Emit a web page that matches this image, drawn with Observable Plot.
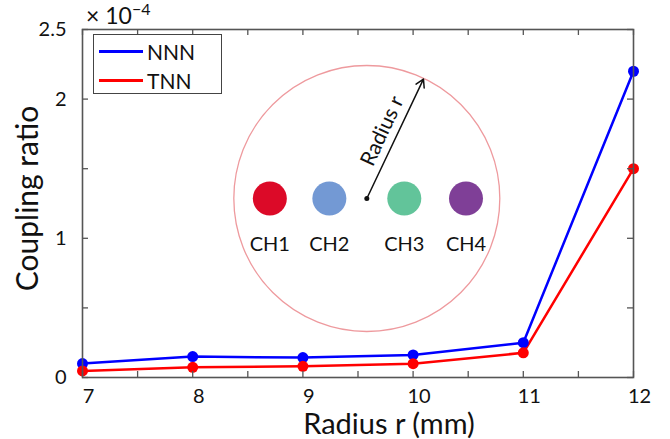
<!DOCTYPE html>
<html>
<head>
<meta charset="utf-8">
<script src="https://cdn.jsdelivr.net/npm/d3@7"></script>
<script src="https://cdn.jsdelivr.net/npm/@observablehq/plot@0.6"></script>
<style>
  html, body { margin: 0; padding: 0; background: white; }
  #wrap { position: relative; width: 670px; height: 439px; font-family: Lato, "Open Sans", sans-serif; }
  #legend { position: absolute; left: 93px; top: 34px; width: 129px; height: 60px; border: 1px solid #444; background: white; box-sizing: border-box; }
  .item { position: absolute; left: 5px; height: 28px; display: flex; align-items: center; font-size: 21px; color: #111; }
  .item span.sw { display: inline-block; width: 44px; height: 3px; margin-right: 4px; }
  #exp { position: absolute; left: 86px; top: 0px; font-size: 23px; line-height: 30px; color: #111; white-space: nowrap; }
  #exp sup { font-size: 16px; vertical-align: 9px; line-height: 0; }
</style>
</head>
<body>
<div id="wrap"></div>
<script>
// ---- data (coupling ratio in units of 1e-4) ----
const radius = [7, 8, 9, 10, 11, 12];
const nnn = [0.100, 0.150, 0.143, 0.162, 0.250, 2.20];
const tnn = [0.047, 0.073, 0.080, 0.099, 0.177, 1.50];
const seriesNames = ["NNN", "TNN"];
const seriesColors = ["#0000ff", "#ff0000"];
const xTickLabels = [7, 8, 9, 10, 11, 12];
const xTicks = [7, 7.5, 8, 8.5, 9, 9.5, 10, 10.5, 11, 11.5, 12];
const yTickLabels = [0, 1, 2, 2.5];
const yTicks = [0, 0.5, 1, 1.5, 2, 2.5];
const channelNames = ["CH1", "CH2", "CH3", "CH4"];
const channelColors = ["#dc0a28", "#7399d4", "#62c49a", "#7f3f97"];
const xLabel = "Radius r (mm)";
const yLabel = "Coupling ratio";

// inset schematic placement (data coordinates)
const inset = { cx: 9.58, cy: 1.286, chX: [8.70, 9.24, 9.92, 10.48], labelY: 0.952, tipX: 10.094, tipY: 2.144, textX: 9.72, textY: 1.77 };

const W = 670, H = 439, mL = 82, mR = 37, mT = 29, mB = 62;
const pxX = (12 - 7) / (W - mL - mR), pxY = 2.5 / (H - mT - mB);
const tl = 6;

const rows = [];
[nnn, tnn].forEach((vals, s) => radius.forEach((r, i) => rows.push({ r, v: vals[i], c: seriesColors[s], name: seriesNames[s] })));
const chans = channelNames.map((n, i) => ({ n, x: inset.chX[i], c: channelColors[i] }));

const chart = Plot.plot({
  width: W, height: H,
  marginLeft: mL, marginRight: mR, marginTop: mT, marginBottom: mB,
  style: { fontFamily: "Lato, 'Open Sans', sans-serif", fontSize: "20px", color: "#111", background: "white" },
  x: { domain: [7, 12] },
  y: { domain: [0, 2.5] },
  color: { type: "identity" },
  marks: [
    Plot.dot([inset], { x: "cx", y: "cy", r: 133, stroke: "#ee9a9e", strokeWidth: 1.3, fill: "none" }),
    Plot.dot(chans, { x: "x", y: () => inset.cy, r: 17, fill: "c" }),
    Plot.text(chans, { x: "x", y: () => inset.labelY, text: "n", fontSize: 20, fill: "#111" }),
    Plot.arrow([inset], { x1: "cx", y1: "cy", x2: "tipX", y2: "tipY", stroke: "#111", strokeWidth: 1.5, headLength: 9 }),
    Plot.dot([inset], { x: "cx", y: "cy", r: 2.5, fill: "#111" }),
    Plot.text(["Radius r"], { x: () => inset.textX, y: () => inset.textY, text: d => d, rotate: -65, fontSize: 21, fill: "#111" }),
    Plot.line(rows, { x: "r", y: "v", z: "name", stroke: "c", strokeWidth: 2.5 }),
    Plot.dot(rows, { x: "r", y: "v", r: 5.5, fill: "c" }),
    Plot.ruleX(xTicks, { x: d => d, y1: 0, y2: tl * pxY, stroke: "#555", strokeWidth: 1.3 }),
    Plot.ruleX(xTicks, { x: d => d, y1: 2.5 - tl * pxY, y2: 2.5, stroke: "#555", strokeWidth: 1.3 }),
    Plot.ruleY(yTicks, { y: d => d, x1: 7, x2: 7 + tl * pxX, stroke: "#555", strokeWidth: 1.3 }),
    Plot.ruleY(yTicks, { y: d => d, x1: 12 - tl * pxX, x2: 12, stroke: "#555", strokeWidth: 1.3 }),
    Plot.frame({ stroke: "#555", strokeWidth: 1.6 }),
    Plot.axisX({ ticks: xTickLabels, tickSize: 0, tickPadding: 11, label: null, fontSize: 20, dx: 6, tickFormat: d => String(d) }),
    Plot.axisY({ ticks: yTickLabels, tickSize: 0, tickPadding: 16, label: null, fontSize: 20, tickFormat: d => String(d) }),
    Plot.text([xLabel], { frameAnchor: "bottom", text: d => d, textAnchor: "middle", lineAnchor: "middle", dx: 31, dy: 47, fontSize: 29, fill: "#111" }),
    Plot.text([yLabel], { frameAnchor: "left", text: d => d, textAnchor: "middle", lineAnchor: "middle", dx: -54, dy: -5, rotate: -90, fontSize: 30, fill: "#111" })
  ]
});

const wrap = document.getElementById("wrap");
wrap.appendChild(chart);

const exp = document.createElement("div");
exp.id = "exp";
exp.innerHTML = "× 10<sup>−4</sup>";
wrap.appendChild(exp);

const legend = document.createElement("div");
legend.id = "legend";
seriesNames.forEach((n, i) => {
  const it = document.createElement("div");
  it.className = "item";
  it.style.top = (2 + i * 29) + "px";
  it.innerHTML = `<span class="sw" style="background:${seriesColors[i]}"></span>${n}`;
  legend.appendChild(it);
});
wrap.appendChild(legend);
</script>
</body>
</html>
